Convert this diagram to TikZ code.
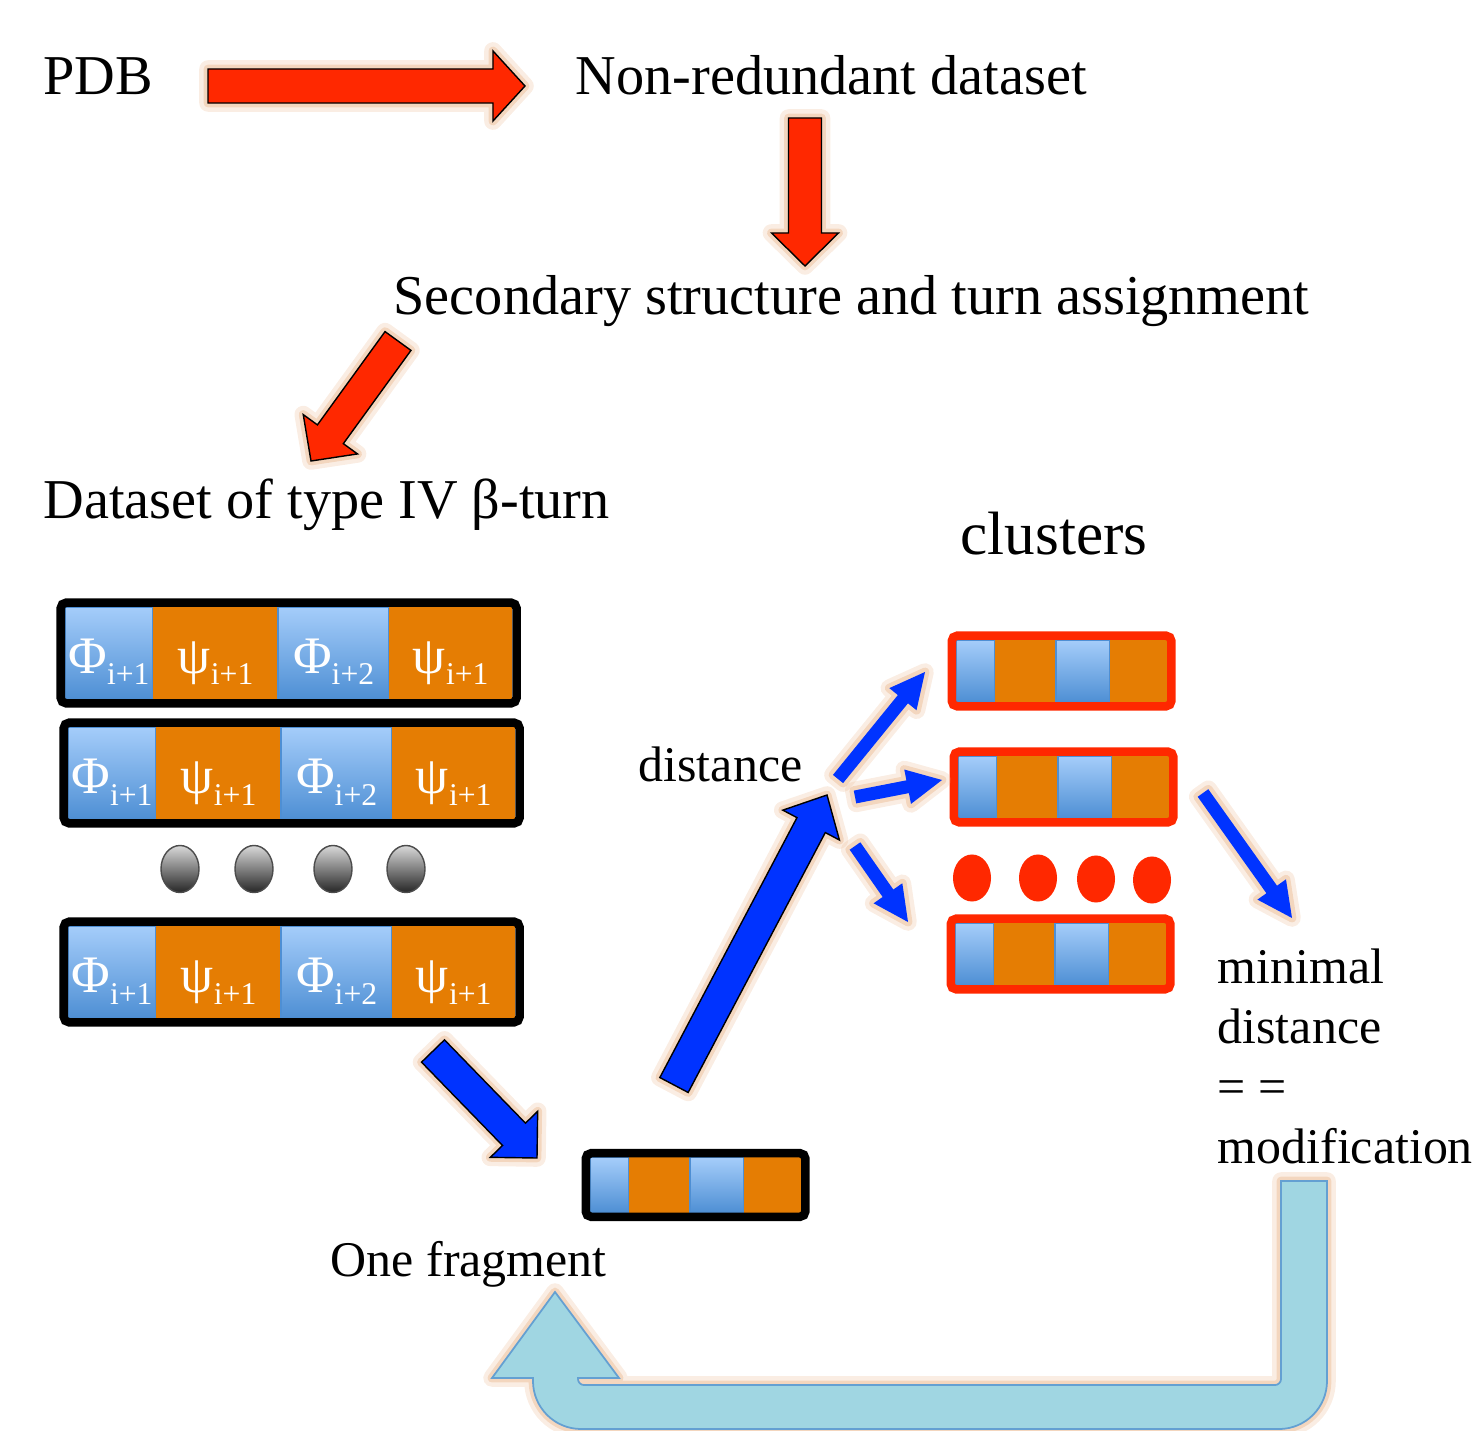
\documentclass[tikz,border=0pt]{standalone}
\usepackage{fontspec}
\setmainfont{Liberation Serif}
\usetikzlibrary{shapes,positioning,calc,fit}

\definecolor{redarr}{RGB}{255,40,0}
\definecolor{bluearr}{RGB}{0,51,255}
\definecolor{orng}{RGB}{229,125,3}
\definecolor{bluetop}{RGB}{165,205,250}
\definecolor{bluebot}{RGB}{78,143,212}
\definecolor{loopc}{RGB}{160,214,226}
\definecolor{loopline}{RGB}{100,160,210}
\definecolor{glowc}{RGB}{235,185,145}

\newcommand{\sbx}[1]{\raisebox{-3.4pt}{\fontsize{9}{9}\selectfont #1}}
\newcommand{\barrow}[6]{%
  \coordinate (hb) at ($(#3)!#6!(#2)$);
  \path[#1] ($(#2)!#4!90:(#3)$) -- ($(hb)!#4!90:(#3)$) -- ($(hb)!#5!90:(#3)$) -- (#3)
    -- ($(hb)!#5!-90:(#3)$) -- ($(hb)!#4!-90:(#3)$) -- ($(#2)!#4!-90:(#3)$) -- cycle;}

\begin{document}
\begin{tikzpicture}[x=0.01cm,y=-0.01cm,
  glow/.style={preaction={draw=glowc,line width=5pt,opacity=0.25,line join=round},
    preaction={draw=glowc,line width=2.5pt,opacity=0.45,line join=round}},
  redarrow/.style={fill=redarr,draw=black,line width=0.4pt,glow},
  bluearrow/.style={fill=bluearr,draw=black,line width=0.4pt,glow},
  thinarrow/.style={fill=bluearr,glow},
  txt/.style={inner sep=0pt,anchor=base west,font=\fontsize{16}{16}\selectfont},
  stxt/.style={inner sep=0pt,anchor=base west,font=\fontsize{14.2}{14.2}\selectfont},
  cell/.style={rectangle,inner sep=0pt,outer sep=0pt,text=white,text height=12pt,text depth=0.6pt,
    font=\fontsize{15}{15}\selectfont},
  phi/.style={cell,top color=bluetop,bottom color=bluebot,draw=bluebot,line width=0.5pt},
  psi/.style={cell,fill=orng},
  fragbox/.style={draw=#1,line width=0.085cm,inner sep=0.0425cm,rounded corners=1.5pt},
  ball/.style={ellipse,inner sep=0pt,minimum width=0.38cm,minimum height=0.47cm,
    top color=gray!30,bottom color=black!85,draw=black!70},
  reddot/.style={ellipse,inner sep=0pt,minimum width=0.38cm,minimum height=0.47cm,fill=redarr}]
\useasboundingbox (0,0) rectangle (1479,1431);

\node[txt] (pdb) at (43,95) {PDB};
\node[txt] (nonred) at (575,95) {Non-redundant dataset};
\node[txt] (sec) at (393,315) {Secondary structure and turn assignment};
\node[txt] (turns) at (43,519) {Dataset of type IV β-turn};
\node[txt,font=\fontsize{17.4}{17.4}\selectfont] (clus) at (960,555) {clusters};
\node[stxt] (dist) at (638,781) {distance};
\node[stxt] (onefrag) at (330,1276) {One fragment};
\foreach \t [count=\i] in {minimal,distance,= =,modification}
  \node[stxt] (mod\i) at (1217,923+60*\i) {\t};

\foreach \rr/\x/\y in {1/65/653, 2/68/773, 3/68/972} {
  \node[phi,minimum width=0.88cm,minimum height=0.92cm,anchor=west] (r\rr-a) at (\x,\y) {Φ\sbx{i+1}};
  \node[psi,minimum width=1.25cm,minimum height=0.92cm,right=0pt of r\rr-a] (r\rr-b) {ψ\sbx{i+1}};
  \node[phi,minimum width=1.11cm,minimum height=0.92cm,right=0pt of r\rr-b] (r\rr-c) {Φ\sbx{i+2}};
  \node[psi,minimum width=1.23cm,minimum height=0.92cm,right=0pt of r\rr-c] (r\rr-d) {ψ\sbx{i+1}};
  \node[fragbox=black,fit=(r\rr-a)(r\rr-d)] (r\rr) {};
}

\foreach \cc/\x/\y/\h/\bc in {c1/956/671/0.62/redarr, c2/958/787/0.62/redarr,
    c3/955/954/0.62/redarr, one/590/1185/0.55/black} {
  \node[phi,minimum width=0.39cm,minimum height=\h cm,anchor=west] (\cc-a) at (\x,\y) {};
  \node[psi,minimum width=0.61cm,minimum height=\h cm,right=0pt of \cc-a] (\cc-b) {};
  \node[phi,minimum width=0.54cm,minimum height=\h cm,right=0pt of \cc-b] (\cc-c) {};
  \node[psi,minimum width=0.57cm,minimum height=\h cm,right=0pt of \cc-c] (\cc-d) {};
  \node[fragbox=\bc,fit=(\cc-a)(\cc-d)] (\cc) {};
}

\foreach \x [count=\i] in {180,254,333,406}
  \node[ball] (dot\i) at (\x,869) {};
\foreach \x/\y [count=\i] in {972/878,1038/878,1096/879,1152/880}
  \node[reddot] (rdot\i) at (\x,\y) {};

\coordinate (a1s) at (208,86);   \coordinate (a1e) at (525,86);
\coordinate (a2s) at (805,118);  \coordinate (a2e) at (805,266);
\coordinate (a3s) at (398,341);  \coordinate (a3e) at (311,461);
\coordinate (a4s) at (433,1051); \coordinate (a4e) at (537,1158);
\coordinate (a5s) at (674,1085); \coordinate (a5e) at (827,795);
\coordinate (b1s) at (838,779);  \coordinate (b1e) at (925,672);
\coordinate (b2s) at (855,797);  \coordinate (b2e) at (942,780);
\coordinate (b3s) at (855,846);  \coordinate (b3e) at (908,922);
\coordinate (b4s) at (1203,793); \coordinate (b4e) at (1292,918);

\barrow{redarrow}{a1s}{a1e}{0.17cm}{0.35cm}{0.32cm}
\barrow{redarrow}{a2s}{a2e}{0.165cm}{0.335cm}{0.33cm}
\barrow{redarrow}{a3s}{a3e}{0.16cm}{0.335cm}{0.33cm}
\barrow{bluearrow}{a4s}{a4e}{0.16cm}{0.33cm}{0.33cm}
\barrow{bluearrow}{a5s}{a5e}{0.16cm}{0.32cm}{0.34cm}
\foreach \b in {b1,b2,b3,b4} {
  \barrow{thinarrow}{\b s}{\b e}{0.065cm}{0.175cm}{0.35cm}
}

\path[fill=loopc,draw=loopline,line width=0.5pt,glow] (1281,1181) -- (1327,1181) -- (1327,1381)
  arc[start angle=0,end angle=-90,radius=0.48cm] -- (581,1429)
  arc[start angle=-90,end angle=-180,radius=0.48cm] -- (533,1378) -- (492,1378) -- (555,1292)
  -- (619,1378) -- (578,1378) -- (578,1379)
  arc[start angle=180,end angle=270,radius=0.06cm] -- (1275,1385)
  arc[start angle=270,end angle=360,radius=0.06cm] -- cycle;
\end{tikzpicture}
\end{document}
